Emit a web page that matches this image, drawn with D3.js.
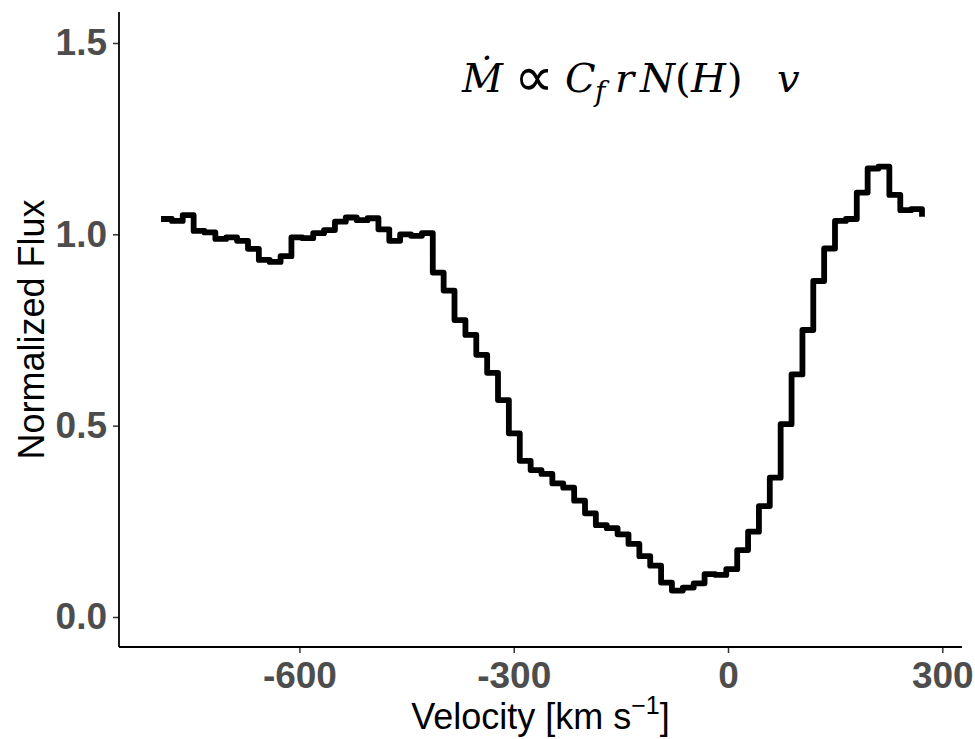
<!DOCTYPE html>
<html>
<head>
<meta charset="utf-8">
<script src="https://cdn.jsdelivr.net/npm/d3@7"></script>
<style>
  body { margin:0; background:#fff; }
  svg { display:block; }
</style>
</head>
<body>
<div class="canvas"></div>
<script>
//step spectrum: normalized flux against velocity

var velocity = [-793.8,-778.6,-763.4,-748.1,-732.9,-717.7,-702.5,-687.3,-672.0,-656.8,
	-641.6,-626.4,-611.2,-595.9,-580.7,-565.5,-550.3,-535.1,-519.8,-504.6,
	-489.4,-474.2,-459.0,-443.7,-428.5,-413.3,-398.1,-382.9,-367.6,-352.4,
	-337.2,-322.0,-306.8,-291.5,-276.3,-261.1,-245.9,-230.7,-215.4,-200.2,
	-185.0,-169.8,-154.6,-139.3,-124.1,-108.9,-93.7,-78.5,-63.2,-48.0,
	-32.8,-17.6,-2.4,12.9,28.1,43.3,58.5,73.7,89.0,104.2,
	119.4,134.6,149.8,165.1,180.3,195.5,210.7,225.9,241.2,256.4,271.6];

var flux = [1.040,1.035,1.050,1.009,1.005,0.988,0.992,0.983,0.962,0.933,
	0.928,0.943,0.992,0.990,1.003,1.011,1.033,1.044,1.037,1.042,
	1.013,0.983,1.000,0.996,1.003,0.900,0.853,0.776,0.737,0.685,
	0.638,0.567,0.480,0.408,0.384,0.374,0.349,0.338,0.304,0.271,
	0.240,0.232,0.216,0.191,0.159,0.134,0.090,0.069,0.077,0.088,
	0.112,0.110,0.125,0.175,0.223,0.290,0.364,0.504,0.634,0.750,
	0.878,0.963,1.035,1.040,1.109,1.172,1.177,1.103,1.063,1.066,1.046];

var xTicks = [-600,-300,0,300];
var yTicks = [0,0.5,1.0,1.5];

var W = 975, H = 739;
var margin = {t:12,r:13,b:92,l:119};
var width = W-margin.l-margin.r,
	height = H-margin.t-margin.b;

var svg = d3.select('.canvas')
	.append('svg')
	.attr('width',W)
	.attr('height',H);

var plot = svg.append('g')
	.attr('transform','translate('+margin.l+','+margin.t+')');

var x = d3.scaleLinear().domain([-852.6,327.6]).range([0,width]);
var y = d3.scaleLinear().domain([-0.0784,1.581]).range([height,0]);

var data = velocity.map(function(v,i){ return {v:v, f:flux[i]}; });

var line = d3.line()
	.x(function(d){ return x(d.v); })
	.y(function(d){ return y(d.f); })
	.curve(d3.curveStepAfter);

plot.append('path')
	.datum(data)
	.attr('d',line)
	.style('fill','none')
	.style('stroke','#000')
	.style('stroke-width','5.8px')
	.style('stroke-linejoin','round');

//axes
var tickFont = function(sel){
	sel.selectAll('text')
		.style('font-family','"Liberation Sans", Arial, sans-serif')
		.style('font-weight','bold')
		.style('font-size','37px')
		.style('fill','#4D4D4D');
	sel.selectAll('.tick line').style('stroke','#333').style('stroke-width','1.5px');
	sel.select('.domain').remove();
};

plot.append('g')
	.attr('transform','translate(0,'+height+')')
	.call(d3.axisBottom(x).tickValues(xTicks).tickSize(6).tickPadding(9)
		.tickFormat(function(d){ return String(d); }))
	.call(tickFont);

plot.append('g')
	.call(d3.axisLeft(y).tickValues(yTicks).tickSize(6).tickPadding(6).tickFormat(d3.format('.1f')))
	.call(tickFont);

plot.append('line')
	.attr('x1',0).attr('x2',0).attr('y1',0).attr('y2',height)
	.style('stroke','#000').style('stroke-width','1.8px');
plot.append('line')
	.attr('x1',0).attr('x2',width).attr('y1',height).attr('y2',height)
	.style('stroke','#000').style('stroke-width','1.8px');

//axis titles
svg.append('text')
	.attr('transform','translate(44,'+(margin.t+height/2)+') rotate(-90)')
	.attr('text-anchor','middle')
	.style('font-family','"Liberation Sans", Arial, sans-serif')
	.style('font-size','36px')
	.text('Normalized Flux');

var xt = svg.append('text')
	.attr('x',margin.l+width/2)
	.attr('y',729)
	.attr('text-anchor','middle')
	.style('font-family','"Liberation Sans", Arial, sans-serif')
	.style('font-size','36px');
xt.append('tspan').text('Velocity [km s');
xt.append('tspan').attr('dy','-15').style('font-size','25px').text('\u22121');
xt.append('tspan').attr('dy','15').text(']');

//formula
var fml = svg.append('text')
	.attr('y',92)
	.style('font-family','"DejaVu Serif", serif')
	.style('font-size','40px');
fml.append('tspan').attr('x',462).style('font-style','italic').text('\u1E40');
fml.append('tspan').attr('x',514).attr('dy','4').style('font-family','"DejaVu Sans", sans-serif').style('font-size','56px').text('\u221D');
fml.append('tspan').attr('x',565).attr('dy','-4').style('font-style','italic').text('C');
fml.append('tspan').attr('x',595).attr('dy','9').style('font-style','italic').style('font-size','28px').text('f');
fml.append('tspan').attr('x',615).attr('dy','-9').style('font-style','italic').text('r');
fml.append('tspan').attr('x',640).style('font-style','italic').text('N');
fml.append('tspan').attr('x',675).text('(');
fml.append('tspan').attr('x',691).style('font-style','italic').text('H');
fml.append('tspan').attr('x',727).text(')');
fml.append('tspan').attr('x',777).style('font-style','italic').text('v');
</script>
</body>
</html>
